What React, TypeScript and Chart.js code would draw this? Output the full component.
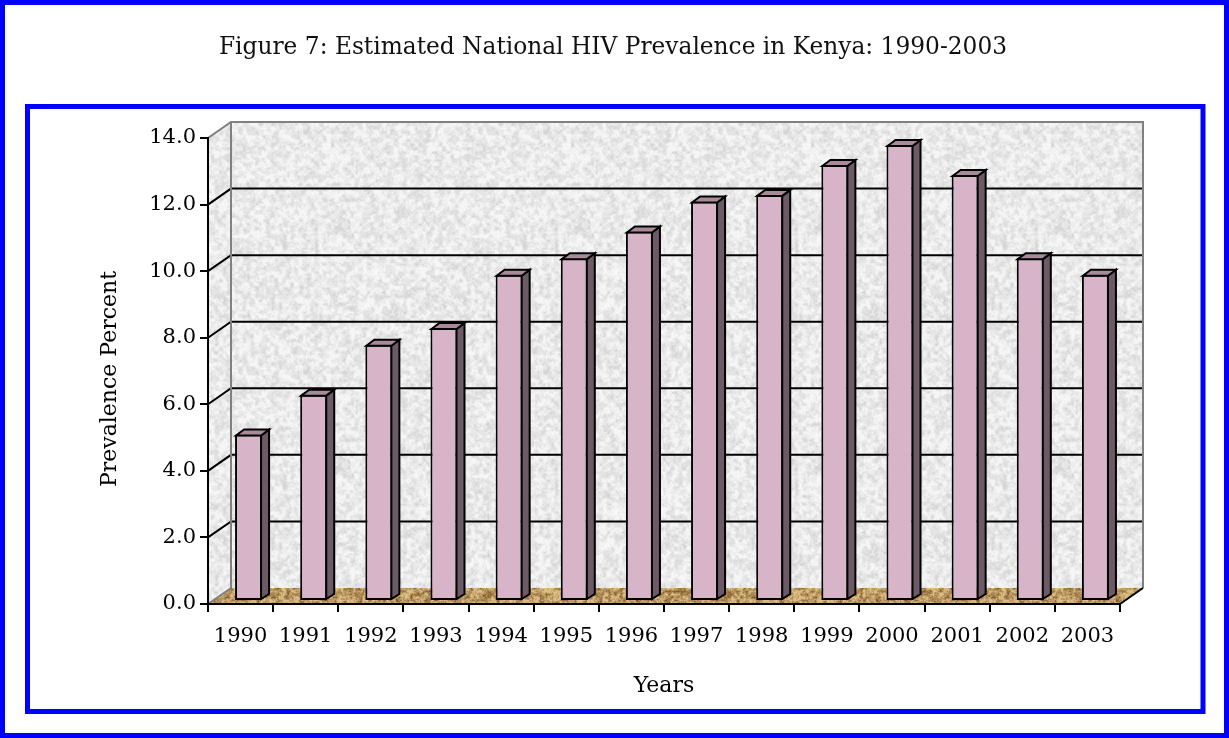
import React, { useEffect, useRef } from "react";
import { Chart, registerables } from "chart.js";

Chart.register(...registerables);

// ---- data ----
const years = ["1990", "1991", "1992", "1993", "1994", "1995", "1996", "1997", "1998", "1999", "2000", "2001", "2002", "2003"];
const prevalence = [5.0, 6.2, 7.7, 8.2, 9.8, 10.3, 11.1, 12.0, 12.2, 13.1, 13.7, 12.8, 10.3, 9.8];
const yMin = 0;
const yMax = 14;
const yStep = 2;
const titleText = "Figure 7: Estimated National HIV Prevalence in Kenya: 1990-2003";
const xTitle = "Years";
const yTitle = "Prevalence Percent";

// ---- 3D geometry (styling) ----
const WALL_DX = 23;
const WALL_DY = -16;
const BAR_SX = 8;
const BAR_SY = -3;
const BAR_DX = 8;
const BAR_DY = -6;
const FONT = "'DejaVu Serif', serif";

function hash(x: number, y: number, s: number) {
  let h = (x * 374761393 + y * 668265263 + s * 982451653) | 0;
  h = Math.imul(h ^ (h >>> 13), 1274126177);
  h = h ^ (h >>> 16);
  return (h >>> 0) / 4294967295;
}
function vnoise(x: number, y: number, period: number, s: number) {
  const xi = Math.floor(x), yi = Math.floor(y);
  const fx = x - xi, fy = y - yi;
  const sx = fx * fx * (3 - 2 * fx), sy = fy * fy * (3 - 2 * fy);
  const w = (a: number) => ((a % period) + period) % period;
  const a = hash(w(xi), w(yi), s), b = hash(w(xi + 1), w(yi), s);
  const c = hash(w(xi), w(yi + 1), s), d = hash(w(xi + 1), w(yi + 1), s);
  return (a + (b - a) * sx) * (1 - sy) + (c + (d - c) * sx) * sy;
}
function makeTexture(light: number[], dark: number[], seed: number, c1: number, c2: number, gain: number) {
  const size = 240;
  const c = document.createElement("canvas");
  c.width = size; c.height = size;
  const g = c.getContext("2d")!;
  const img = g.createImageData(size, size);
  for (let y = 0; y < size; y++) {
    for (let x = 0; x < size; x++) {
      let n = 0.5 * vnoise(x / c1, y / c1, size / c1, seed) + 0.35 * vnoise(x / c2, y / c2, size / c2, seed + 3) + 0.15 * hash(x, y, seed + 9);
      n = Math.min(1, Math.max(0, (n - 0.3) * gain));
      const i = (y * size + x) * 4;
      for (let k = 0; k < 3; k++) img.data[i + k] = Math.round(light[k] + (dark[k] - light[k]) * n);
      img.data[i + 3] = 255;
    }
  }
  g.putImageData(img, 0, 0);
  return c;
}

const scenePlugin = {
  id: "scene3d",
  beforeDraw(chart: any) {
    const { ctx, chartArea } = chart;
    const { left: L, right: R, top: T, bottom: B } = chartArea;
    const ys = chart.scales.y;
    ctx.save();
    ctx.fillStyle = "#ffffff";
    ctx.fillRect(0, 0, chart.width, chart.height);
    // frames
    ctx.strokeStyle = "#0000ff";
    ctx.lineWidth = 5;
    ctx.strokeRect(2.5, 2.5, chart.width - 5, chart.height - 5);
    ctx.strokeRect(27.5, 106.5, 1175.5, 605);

    const wall = ctx.createPattern(makeTexture([246, 246, 246], [208, 208, 210], 11, 4, 2, 1.6), "repeat");
    const floor = ctx.createPattern(makeTexture([222, 192, 132], [128, 88, 44], 5, 3, 1.5, 1.8), "repeat");

    // back wall
    ctx.fillStyle = wall;
    ctx.fillRect(L + WALL_DX, T + WALL_DY, R - L, B - T);
    // left wall
    ctx.beginPath();
    ctx.moveTo(L, T); ctx.lineTo(L + WALL_DX, T + WALL_DY);
    ctx.lineTo(L + WALL_DX, B + WALL_DY); ctx.lineTo(L, B); ctx.closePath();
    ctx.fill();
    // floor
    ctx.fillStyle = floor;
    ctx.beginPath();
    ctx.moveTo(L, B); ctx.lineTo(L + WALL_DX, B + WALL_DY);
    ctx.lineTo(R + WALL_DX, B + WALL_DY); ctx.lineTo(R, B); ctx.closePath();
    ctx.fill();

    // gridlines
    ctx.strokeStyle = "#000";
    ctx.lineWidth = 2;
    for (let v = yMin + yStep; v < yMax; v += yStep) {
      const py = ys.getPixelForValue(v);
      ctx.beginPath();
      ctx.moveTo(L, py); ctx.lineTo(L + WALL_DX, py + WALL_DY);
      ctx.lineTo(R + WALL_DX, py + WALL_DY);
      ctx.stroke();
    }
    // wall outline
    ctx.strokeStyle = "#808080";
    ctx.beginPath();
    ctx.moveTo(L, T); ctx.lineTo(L + WALL_DX, T + WALL_DY);
    ctx.lineTo(R + WALL_DX, T + WALL_DY); ctx.lineTo(R + WALL_DX, B + WALL_DY);
    ctx.moveTo(L + WALL_DX, T + WALL_DY); ctx.lineTo(L + WALL_DX, B + WALL_DY);
    ctx.moveTo(L, B); ctx.lineTo(L + WALL_DX, B + WALL_DY);
    ctx.stroke();
    ctx.strokeStyle = "#000";
    ctx.beginPath();
    ctx.moveTo(R, B); ctx.lineTo(R + WALL_DX, B + WALL_DY);
    ctx.stroke();

    // titles
    ctx.fillStyle = "#111";
    ctx.textAlign = "center";
    ctx.textBaseline = "middle";
    ctx.font = `23.3px ${FONT}`;
    ctx.fillText(titleText, 613, 48);
    ctx.fillStyle = "#000";
    ctx.font = `22px ${FONT}`;
    ctx.translate(110, 379);
    ctx.rotate(-Math.PI / 2);
    ctx.fillText(yTitle, 0, 0);
    ctx.restore();
  },
  beforeDatasetsDraw(chart: any) {
    chart.ctx.save();
    chart.ctx.translate(BAR_SX, BAR_SY);
  },
  afterDatasetsDraw(chart: any) {
    const ctx = chart.ctx;
    const meta = chart.getDatasetMeta(0);
    ctx.lineWidth = 2;
    ctx.strokeStyle = "#000";
    ctx.lineJoin = "miter";
    meta.data.forEach((bar: any) => {
      const { x, y, base, width } = bar.getProps(["x", "y", "base", "width"], true);
      const l = x - width / 2 + 1, r = x + width / 2 - 1, t = y + 1, b = base;
      // side
      ctx.fillStyle = "#6c5a67";
      ctx.beginPath();
      ctx.moveTo(r, t); ctx.lineTo(r + BAR_DX, t + BAR_DY);
      ctx.lineTo(r + BAR_DX, b + BAR_DY); ctx.lineTo(r, b - 1); ctx.closePath();
      ctx.fill(); ctx.stroke();
      // top
      ctx.fillStyle = "#a88a9b";
      ctx.beginPath();
      ctx.moveTo(l, t); ctx.lineTo(l + BAR_DX, t + BAR_DY);
      ctx.lineTo(r + BAR_DX, t + BAR_DY); ctx.lineTo(r, t); ctx.closePath();
      ctx.fill(); ctx.stroke();
    });
    ctx.restore();
  },
};

export default function App() {
  const ref = useRef<HTMLCanvasElement>(null);
  useEffect(() => {
    Chart.defaults.font.family = FONT;
    Chart.defaults.color = "#000";
    const chart = new Chart(ref.current!, {
      type: "bar",
      data: {
        labels: years,
        datasets: [
          {
            data: prevalence,
            backgroundColor: "#d8b4c8",
            borderColor: "#000",
            borderWidth: 2,
            borderSkipped: false,
            barPercentage: 0.415,
            categoryPercentage: 1,
          },
        ],
      },
      options: {
        responsive: false,
        animation: false,
        layout: { padding: { left: 30, right: 109, top: 138, bottom: 24 } },
        plugins: {
          legend: { display: false },
          tooltip: { enabled: false },
          title: { display: false },
        },
        scales: {
          x: {
            grid: { display: true, drawOnChartArea: false, drawTicks: true, tickLength: 8, color: "#000", lineWidth: 2 },
            border: { display: true, color: "#000", width: 2 },
            ticks: { font: { size: 21, family: FONT }, color: "#000", padding: 12, maxRotation: 0, autoSkip: false },
            title: { display: true, text: xTitle, color: "#000", font: { size: 22, family: FONT, lineHeight: 1.2 }, padding: { top: 0, bottom: 15 } },
            afterFit: (s: any) => { s.height = 110; },
          },
          y: {
            min: yMin,
            max: yMax,
            grid: { display: true, drawOnChartArea: false, drawTicks: true, tickLength: 8, color: "#000", lineWidth: 2 },
            border: { display: true, color: "#000", width: 2 },
            ticks: { stepSize: yStep, font: { size: 21, family: FONT }, color: "#000", padding: 4, callback: (v: any) => Number(v).toFixed(1) },
            title: { display: false },
            afterFit: (s: any) => { s.width = 178; },
          },
        },
      },
      plugins: [scenePlugin],
    });
    return () => chart.destroy();
  }, []);
  return (
    <div style={{ position: "absolute", left: 0, top: 0, width: 1229, height: 738 }}>
      <canvas ref={ref} width={1229} height={738} style={{ display: "block" }} />
    </div>
  );
}
